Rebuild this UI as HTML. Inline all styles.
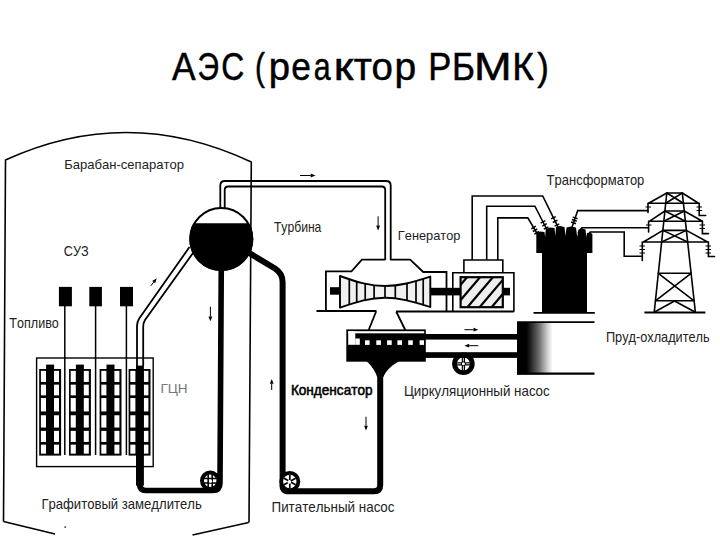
<!DOCTYPE html>
<html><head><meta charset="utf-8">
<style>
html,body{margin:0;padding:0;background:#fff;}
body{width:720px;height:540px;overflow:hidden;}
svg{display:block;}
text{font-family:"Liberation Sans",sans-serif;font-kerning:none;}
</style></head><body>
<svg width="720" height="540" viewBox="0 0 720 540">
<rect width="720" height="540" fill="#fff"/>

<g fill="none" stroke="#000" stroke-linecap="butt" stroke-linejoin="round">
<!-- building -->
<path d="M3.5,521.5 L5.5,160 Q128.25,104 251.3,162 L249,522.5" stroke-width="1.6"/>
<path d="M3.5,521.5 L55,534" stroke-width="1.6"/>
<path d="M192.5,535 L248.7,522.5" stroke-width="1.6"/>

<!-- steam pipe double line -->
<path d="M220.3,209 V185.5 Q220.3,181 224.8,181 H386.2 Q390.7,181 390.7,185.5 V260" stroke-width="1.8"/>
<path d="M224.7,209 V190 Q224.7,186.5 228.2,186.5 H381.8 Q385.2,186.5 385.2,190 V260" stroke-width="1.8"/>

<!-- riser pipe double line -->
<path d="M189.5,247 L139.2,318.5 Q137,322 137,326 V366" stroke-width="1.8"/>
<path d="M193,253 L145,320 Q143.2,323 143.2,327 V366" stroke-width="1.8"/>

<!-- thick black pipes -->
<path d="M221.3,262 L220,483 Q220,490.5 212.5,490.5 H146 Q139.6,490.5 139.6,484 V455" stroke-width="5.6"/>
<path d="M245,250.5 L275,268.5 Q282.6,273.5 282.6,282 V484 Q281.5,491.3 289,491.3 H374 Q380.2,491.3 380.2,485 V368" stroke-width="6"/>
</g>

<!-- separator -->
<defs>
<clipPath id="lw"><rect x="180" y="223.3" width="90" height="60"/></clipPath>
</defs>
<circle cx="221.3" cy="239" r="31" fill="#fff" stroke="#000" stroke-width="2"/>
<circle cx="221.3" cy="239" r="32" fill="#000" clip-path="url(#lw)"/>


<!-- reactor core -->
<rect x="36.6" y="358" width="116.6" height="108.6" fill="none" stroke="#000" stroke-width="1.4"/>
<g transform="translate(39.2,0)"><rect x="0" y="369" width="21.9" height="86.6" fill="#000"/><g fill="#fff"><rect x="1.7" y="370.85" width="5.1" height="11.1"/><rect x="14.8" y="370.85" width="5.0" height="11.1"/><rect x="1.7" y="384.65" width="5.1" height="10.7"/><rect x="14.8" y="384.65" width="5.0" height="10.7"/><rect x="1.7" y="398.05" width="5.1" height="13.4"/><rect x="14.8" y="398.05" width="5.0" height="13.4"/><rect x="1.7" y="415.25" width="5.1" height="12.3"/><rect x="14.8" y="415.25" width="5.0" height="12.3"/><rect x="1.7" y="430.85" width="5.1" height="11.1"/><rect x="14.8" y="430.85" width="5.0" height="11.1"/><rect x="1.7" y="444.65" width="5.1" height="9.0"/><rect x="14.8" y="444.65" width="5.0" height="9.0"/></g></g><g transform="translate(69,0)"><rect x="0" y="369" width="21.9" height="86.6" fill="#000"/><g fill="#fff"><rect x="1.7" y="370.85" width="5.1" height="11.1"/><rect x="14.8" y="370.85" width="5.0" height="11.1"/><rect x="1.7" y="384.65" width="5.1" height="10.7"/><rect x="14.8" y="384.65" width="5.0" height="10.7"/><rect x="1.7" y="398.05" width="5.1" height="13.4"/><rect x="14.8" y="398.05" width="5.0" height="13.4"/><rect x="1.7" y="415.25" width="5.1" height="12.3"/><rect x="14.8" y="415.25" width="5.0" height="12.3"/><rect x="1.7" y="430.85" width="5.1" height="11.1"/><rect x="14.8" y="430.85" width="5.0" height="11.1"/><rect x="1.7" y="444.65" width="5.1" height="9.0"/><rect x="14.8" y="444.65" width="5.0" height="9.0"/></g></g><g transform="translate(99.6,0)"><rect x="0" y="369" width="21.9" height="86.6" fill="#000"/><g fill="#fff"><rect x="1.7" y="370.85" width="5.1" height="11.1"/><rect x="14.8" y="370.85" width="5.0" height="11.1"/><rect x="1.7" y="384.65" width="5.1" height="10.7"/><rect x="14.8" y="384.65" width="5.0" height="10.7"/><rect x="1.7" y="398.05" width="5.1" height="13.4"/><rect x="14.8" y="398.05" width="5.0" height="13.4"/><rect x="1.7" y="415.25" width="5.1" height="12.3"/><rect x="14.8" y="415.25" width="5.0" height="12.3"/><rect x="1.7" y="430.85" width="5.1" height="11.1"/><rect x="14.8" y="430.85" width="5.0" height="11.1"/><rect x="1.7" y="444.65" width="5.1" height="9.0"/><rect x="14.8" y="444.65" width="5.0" height="9.0"/></g></g><g transform="translate(128.6,0)"><rect x="0" y="369" width="21.9" height="86.6" fill="#000"/><g fill="#fff"><rect x="1.7" y="370.85" width="5.1" height="11.1"/><rect x="14.8" y="370.85" width="5.0" height="11.1"/><rect x="1.7" y="384.65" width="5.1" height="10.7"/><rect x="14.8" y="384.65" width="5.0" height="10.7"/><rect x="1.7" y="398.05" width="5.1" height="13.4"/><rect x="14.8" y="398.05" width="5.0" height="13.4"/><rect x="1.7" y="415.25" width="5.1" height="12.3"/><rect x="14.8" y="415.25" width="5.0" height="12.3"/><rect x="1.7" y="430.85" width="5.1" height="11.1"/><rect x="14.8" y="430.85" width="5.0" height="11.1"/><rect x="1.7" y="444.65" width="5.1" height="9.0"/><rect x="14.8" y="444.65" width="5.0" height="9.0"/></g></g>
<rect x="46.1" y="364.6" width="8" height="5"/><rect x="75.9" y="364.6" width="8" height="5"/><rect x="106.5" y="364.6" width="8" height="5"/>
<rect x="136" y="365.6" width="7.9" height="120"/>
<!-- control rods -->
<rect x="58.9" y="286.9" width="13" height="19.4"/>
<rect x="89.3" y="286.9" width="12.6" height="19.4"/>
<rect x="120" y="286.9" width="13" height="19.4"/>
<g stroke="#000" stroke-width="1.5"><path d="M64.8,305 V455"/><path d="M95.6,305 V455"/><path d="M126.4,305 V455"/></g>

<!-- pumps -->
<g>
<circle cx="210.2" cy="480.8" r="8.2" fill="#fff" stroke="#000" stroke-width="4"/>
<g stroke="#000" stroke-width="1.6"><path d="M204,478.5 H216 M204,483 H216 M208.2,474.5 V487 M212.2,474.5 V487"/></g>
<circle cx="210.6" cy="481.2" r="1.6" fill="#fff"/>
<circle cx="289.8" cy="481.5" r="8.6" fill="#fff" stroke="#000" stroke-width="3.8"/>
<g stroke="#000" stroke-width="1.7"><path d="M289.8,474.8 V488.2 M284,478.2 L295.6,484.8 M284,484.8 L295.6,478.2"/></g>
<circle cx="289.3" cy="481.8" r="1.9" fill="#fff"/>
<circle cx="463.4" cy="363.8" r="8.9" fill="#fff" stroke="#000" stroke-width="4.8"/>
<g stroke="#000" stroke-width="3.3"><path d="M463.4,357 V370.6 M456.6,363.8 H470.2"/></g>
<g stroke="#fff" stroke-width="0.8"><path d="M463.4,357.5 V361.5 M463.4,366 V370 M457,363.8 H461 M465.8,363.8 H469.8"/></g>
<circle cx="463.4" cy="363.8" r="1.5" fill="#fff"/>
</g>

<!-- turbine -->
<g fill="none" stroke="#000" stroke-width="1.8">
<path d="M316.5,311 H376.5 M396,311.5 H513.8"/>
<path d="M325.9,311 V271.3 H351.5 L361.9,259.7 H385.2 M390.2,259.7 H410.2 L423.2,272 H446.5 V311"/>
<path d="M376.1,311.5 L368.5,330.5 M396.2,311.5 L405.5,330.5"/>
</g>
<defs><clipPath id="rot"><path d="M340,276 C358,282.5 370,286 385,286 C400,286 412,282.5 430.3,276.6 L430.3,307 C412,301.5 400,297.7 385,297.7 C370,297.7 358,301.5 340,307.6 Z"/></clipPath>
<clipPath id="gr"><rect x="460.6" y="277.2" width="42.2" height="30"/></clipPath></defs>
<path d="M340,276 C358,282.5 370,286 385,286 C400,286 412,282.5 430.3,276.6 L430.3,307 C412,301.5 400,297.7 385,297.7 C370,297.7 358,301.5 340,307.6 Z" fill="#f0f0f0"/>
<g clip-path="url(#rot)" stroke="#000" stroke-width="1.7"><path d="M349.3,270 V312"/><path d="M356.7,270 V312"/><path d="M365.2,270 V312"/><path d="M374.1,270 V312"/><path d="M385,270 V312"/><path d="M395.3,270 V312"/><path d="M407,270 V312"/><path d="M416,270 V312"/><path d="M423.2,270 V312"/></g>
<path d="M340,276 C358,282.5 370,286 385,286 C400,286 412,282.5 430.3,276.6 L430.3,307 C412,301.5 400,297.7 385,297.7 C370,297.7 358,301.5 340,307.6 Z" fill="none" stroke="#000" stroke-width="1.9" stroke-linejoin="round"/>
<rect x="330" y="287.2" width="9.5" height="7.5"/>
<rect x="430" y="287.8" width="80" height="7.6"/>

<!-- generator -->
<g fill="none" stroke="#000" stroke-width="1.6">
<path d="M463.9,272.8 V260 H502.8 V272.8"/>
<path d="M452.8,311.7 V272.8 H513.9 V311.7"/>
</g>
<rect x="460.6" y="277.2" width="42.2" height="30" fill="#efefef"/>
<g clip-path="url(#gr)" stroke="#000" stroke-width="2.2"><path d="M442,306.7 L476.0,266.7"/><path d="M455,306.7 L489.0,266.7"/><path d="M467.8,306.7 L501.8,266.7"/><path d="M480,306.7 L514.0,266.7"/><path d="M492,306.7 L526.0,266.7"/></g>
<rect x="460.6" y="277.2" width="42.2" height="30" fill="none" stroke="#000" stroke-width="2.2"/>

<!-- wires generator -> transformer -->
<g fill="none" stroke="#000" stroke-width="1.6" stroke-linejoin="miter">
<path d="M472.2,260 V196 H542.7 L558.9,228.9"/>
<path d="M486.7,260 V206.2 H534.9 L547.9,231.5"/>
<path d="M497.8,260 V217.9 H527.8 L538.2,235.4"/>
<path d="M572.1,226.9 L577.7,210.6 H648.5"/>
<path d="M578,233 L581.9,227.8 H648.3"/>
<path d="M588,236 L590.2,232 H624.2 V256.3 H642.3"/>
</g>
<!-- insulator ticks -->
<path d="M555.7,216.6 L551.1,218.9 M557.5,220.2 L552.8,222.5 M559.3,223.8 L554.6,226.1 M545.3,220.7 L540.6,223.1 M546.8,223.7 L542.2,226.1 M548.4,226.8 L543.8,229.1 M535.8,226.2 L531.3,228.9 M537.3,228.8 L532.8,231.5 M538.9,231.4 L534.4,234.1 M577.6,218.8 L572.7,217.1 M576.8,221.2 L571.9,219.5 M576.0,223.7 L571.0,222.0" stroke="#000" stroke-width="1.5"/>
<!-- transformer -->
<path d="M536.3,253 V233 L540,231.5 L544.5,232 L545.1,237 L545.8,229 L550,227.5 L554.5,228 L555.3,236 L556,227 L560,226 L564.5,227 L565.5,236 L566.5,227.5 L571,226.5 L576,227.5 L577.2,237 L578.5,229.5 L582,228.5 L585.5,229.5 L586.3,237 L587,233 L590,232.5 L592.4,234 V253 Z"/>
<rect x="542" y="252" width="45" height="60"/>
<path d="M533.5,312.8 H594.8" stroke="#000" stroke-width="1.8"/>

<!-- tower -->
<g fill="none" stroke="#000" stroke-width="1.6" stroke-linecap="round">
<path d="M666.8,193 L654.2,312.5 M682.3,193 L695.4,312.5 M666.8,193 H682.3"/>
<path d="M648.6,203.2 H698.6 M666.8,193 L648.6,203.2 M682.3,193 L698.6,203.2"/>
<path d="M664.9,211 H684.3 M649.3,221.3 H702.4 M664.9,211 L649.3,221.3 M684.3,211 L702.4,221.3"/>
<path d="M662.9,230.4 H686.4 M643.4,242 H707.6 M662.9,230.4 L643.4,242 M686.4,230.4 L707.6,242"/>
<path d="M666.8,193 L683.4,203.2 M682.3,193 L665.7,203.2"/>
<path d="M664.9,211 L685.4,221.3 M684.3,211 L663.8,221.3"/>
<path d="M662.9,230.4 L687.7,242 M686.4,230.4 L661.6,242"/>
<path d="M658.3,273.3 H691.1 M655.4,300.8 H694.1 M658.3,273.3 L694.1,300.8 M691.1,273.3 L655.4,300.8"/>
<path d="M654.6,312 L674.5,301 L695,312"/>
<path d="M648,203.2 V212.5 M699.2,203.2 V215.5 H705.7 M648.6,221.3 V232 M702.4,221.3 V233.6 H708.5 M642.3,242 V260.5 M708.4,242 V256.5 H714.5"/>
</g>
<path d="M644.4,312.5 H705.4" stroke="#000" stroke-width="2"/>
<g stroke="#000" stroke-width="1.2">
<path d="M645.5,207 H651 M696.5,207 H702 M696.5,210.5 H702 M646,225 H651.5 M699.5,225 H705 M699.5,228.5 H705"/>
<path d="M639.5,246 H645 M639.5,249.5 H645 M639.5,253 H645 M705.5,246 H711 M705.5,249.5 H711 M705.5,253 H711"/>
</g>

<!-- condenser -->
<rect x="346.3" y="329.4" width="79.5" height="32.3"/>
<g fill="#fff">
<rect x="348.2" y="331.2" width="76" height="2.1"/>
<rect x="348.2" y="331.2" width="7.1" height="13.6"/>
<rect x="355.3" y="338.5" width="4.5" height="6.3"/>
<rect x="365" y="340.3" width="4.6" height="4.6"/><rect x="376.3" y="340.3" width="4.6" height="4.6"/>
<rect x="387.1" y="340.3" width="4.6" height="4.6"/><rect x="397.4" y="340.3" width="4.6" height="4.6"/>
<rect x="408.2" y="340.3" width="4.6" height="4.6"/><rect x="419.6" y="340.3" width="4.4" height="4.6"/>
</g>
<path d="M366.5,361 H399.3 Q387,368 383.3,377 L377.2,377 Q374,368 366.5,361 Z"/>
<!-- cooling pipes -->
<rect x="425" y="334" width="92.5" height="5.6"/>
<rect x="425" y="352.2" width="92.5" height="5.7"/>
<!-- pond -->
<defs><linearGradient id="pg" x1="0" x2="1" y1="0" y2="0">
<stop offset="0" stop-color="#000"/><stop offset="0.27" stop-color="#000"/><stop offset="0.6" stop-color="#666"/><stop offset="0.85" stop-color="#ccc"/><stop offset="1" stop-color="#fff"/></linearGradient></defs>
<rect x="517" y="322" width="35.5" height="52.5" fill="url(#pg)"/>
<path d="M517,322.2 H594.5" stroke="#000" stroke-width="1.7"/>
<path d="M517,373.6 H594.5" stroke="#000" stroke-width="2.2"/>


<circle cx="65.2" cy="527.1" r="0.9" fill="#333"/>

<!-- arrows -->
<path d="M300.0,175.5 L310.7,175.5" stroke="#000" stroke-width="1.0" fill="none"/><path d="M315.5,175.5 L310.7,177.4 L310.7,173.6 Z" fill="#000"/>
<path d="M378.1,216.3 L378.1,225.6" stroke="#000" stroke-width="1.0" fill="none"/><path d="M378.1,230.4 L376.2,225.6 L380.0,225.6 Z" fill="#000"/>
<path d="M210.4,306.7 L210.4,316.5" stroke="#000" stroke-width="1.0" fill="none"/><path d="M210.4,321.3 L208.5,316.5 L212.3,316.5 Z" fill="#000"/>
<path d="M271.7,390.0 L271.7,383.8" stroke="#000" stroke-width="1.0" fill="none"/><path d="M271.7,379.0 L273.6,383.8 L269.8,383.8 Z" fill="#000"/>
<path d="M366.0,416.7 L366.0,425.7" stroke="#000" stroke-width="1.0" fill="none"/><path d="M366.0,430.5 L364.1,425.7 L367.9,425.7 Z" fill="#000"/>
<path d="M150.8,285.8 L153.7,282.1" stroke="#000" stroke-width="1.0" fill="none"/><path d="M156.7,278.3 L155.2,283.2 L152.2,280.9 Z" fill="#000"/>
<path d="M464.4,329.7 L473.5,329.7" stroke="#000" stroke-width="1.0" fill="none"/><path d="M478.3,329.7 L473.5,331.6 L473.5,327.8 Z" fill="#000"/>
<path d="M478.3,345.7 L469.2,345.7" stroke="#000" stroke-width="1.0" fill="none"/><path d="M464.4,345.7 L469.2,343.8 L469.2,347.6 Z" fill="#000"/>
<!-- title -->
<text transform="translate(171.93,80.4) scale(0.9181,1)" font-size="38.6" fill="#000" stroke="#000" stroke-width="0.5">А</text>
<text transform="translate(197.47,80.4) scale(0.7737,1)" font-size="38.6" fill="#000" stroke="#000" stroke-width="0.5">Э</text>
<text transform="translate(221.28,80.4) scale(0.8263,1)" font-size="38.6" fill="#000" stroke="#000" stroke-width="0.5">С</text>
<text transform="translate(255.05,80.4) scale(0.7719,1)" font-size="38.6" fill="#000" stroke="#000" stroke-width="0.5">(</text>
<text transform="translate(268.63,80.4) scale(0.9909,1)" font-size="38.6" fill="#000" stroke="#000" stroke-width="0.5">р</text>
<text transform="translate(291.30,80.4) scale(0.9165,1)" font-size="38.6" fill="#000" stroke="#000" stroke-width="0.5">е</text>
<text transform="translate(313.71,80.4) scale(0.7868,1)" font-size="38.6" fill="#000" stroke="#000" stroke-width="0.5">а</text>
<text transform="translate(333.87,80.4) scale(1.1641,1)" font-size="38.6" fill="#000" stroke="#000" stroke-width="0.5">к</text>
<text transform="translate(353.72,80.4) scale(1.0300,1)" font-size="38.6" fill="#000" stroke="#000" stroke-width="0.5">т</text>
<text transform="translate(371.49,80.4) scale(0.9958,1)" font-size="38.6" fill="#000" stroke="#000" stroke-width="0.5">о</text>
<text transform="translate(394.39,80.4) scale(1.0081,1)" font-size="38.6" fill="#000" stroke="#000" stroke-width="0.5">р</text>
<text transform="translate(428.16,80.4) scale(0.8956,1)" font-size="38.6" fill="#000" stroke="#000" stroke-width="0.5">Р</text>
<text transform="translate(452.03,80.4) scale(0.9074,1)" font-size="38.6" fill="#000" stroke="#000" stroke-width="0.5">Б</text>
<text transform="translate(474.10,80.4) scale(1.1696,1)" font-size="38.6" fill="#000" stroke="#000" stroke-width="0.5">М</text>
<text transform="translate(512.35,80.4) scale(0.9637,1)" font-size="38.6" fill="#000" stroke="#000" stroke-width="0.5">К</text>
<text transform="translate(537.20,80.4) scale(0.8989,1)" font-size="38.6" fill="#000" stroke="#000" stroke-width="0.5">)</text>
<!-- labels -->
<text transform="translate(64.23,169.1) scale(0.9745,1)" font-size="13.4" fill="#222" >Барабан-сепаратор</text>
<text transform="translate(63.76,255.5) scale(0.8744,1)" font-size="14.5" fill="#222" >СУЗ</text>
<text transform="translate(9.32,327.8) scale(0.8854,1)" font-size="14.2" fill="#222" >Топливо</text>
<text transform="translate(160.39,393.4) scale(0.9918,1)" font-size="13.7" fill="#777" >ГЦН</text>
<text transform="translate(41.43,509.4) scale(0.8733,1)" font-size="15" fill="#222" >Графитовый замедлитель</text>
<text transform="translate(273.93,232) scale(0.8439,1)" font-size="14.4" fill="#222" >Турбина</text>
<text transform="translate(397.85,240) scale(0.9360,1)" font-size="13.7" fill="#222" >Генератор</text>
<text transform="translate(546.61,185.3) scale(0.9422,1)" font-size="13.8" fill="#222" >Трансформатор</text>
<text transform="translate(290.88,394.7) scale(0.9573,1)" font-size="14.2" fill="#000" stroke="#000" stroke-width="0.55">Конденсатор</text>
<text transform="translate(403.91,396.1) scale(0.9204,1)" font-size="14.5" fill="#222" >Циркуляционный насос</text>
<text transform="translate(605.97,341.7) scale(0.9031,1)" font-size="14.1" fill="#222" >Пруд-охладитель</text>
<text transform="translate(271.51,512.4) scale(0.9437,1)" font-size="14.2" fill="#222" >Питательный насос</text>
</svg>
</body></html>
